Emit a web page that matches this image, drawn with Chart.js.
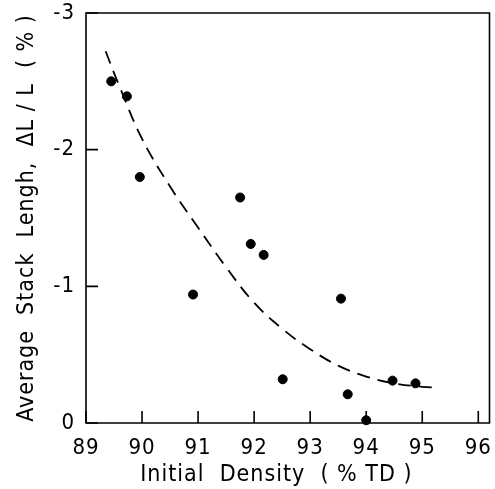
<!DOCTYPE html>
<html>
<head>
<meta charset="utf-8">
<script src="https://cdn.jsdelivr.net/npm/chart.js@4"></script>
<style>
  html, body { margin: 0; padding: 0; background: #fff; }
  #wrap { width: 495px; height: 489px; }
</style>
</head>
<body>
<div id="wrap"><canvas id="chart"></canvas></div>
<script>
// measured points: initial density vs stack length change
const densityX = [89.45, 89.73, 89.96, 90.91, 91.75, 91.94, 92.17, 92.51, 93.55, 93.67, 94.0, 94.47, 94.88];
const lengthY = [-2.50, -2.39, -1.80, -0.94, -1.65, -1.31, -1.23, -0.32, -0.91, -0.21, -0.02, -0.31, -0.29];

// dashed trend curve
const curveX = [89.35, 89.6, 90.0, 90.5, 91.0, 91.5, 92.0, 92.5, 93.0, 93.5, 94.0, 94.5, 95.0, 95.3];
const curveY = [-2.72, -2.46, -2.08, -1.73, -1.43, -1.14, -0.88, -0.69, -0.54, -0.42, -0.34, -0.29, -0.265, -0.26];

const xTicks = [89, 90, 91, 92, 93, 94, 95, 96];
const yTicks = [-3, -2, -1, 0];

const fontFamily = '"DejaVu Sans Condensed", "DejaVu Sans", sans-serif';

// spaced-out lettering like the plotter font
const spacingPlugin = {
    id: "spacing",
    beforeLayout(chart) { chart.ctx.letterSpacing = "1px"; },
    beforeDraw(chart) { chart.ctx.letterSpacing = "1px"; }
};

// frame and inward tick marks
const framePlugin = {
    id: "frame",
    afterDraw(chart) {
        const ctx = chart.ctx;
        const a = chart.chartArea;
        const xs = chart.scales.x;
        const ys = chart.scales.y;
        ctx.save();
        ctx.strokeStyle = "#000";
        ctx.lineWidth = 1.6;
        ctx.beginPath();
        ctx.moveTo(a.left, a.bottom);
        ctx.lineTo(a.left, a.top);
        ctx.lineTo(a.right, a.top);
        ctx.lineTo(a.right, a.bottom);
        ctx.closePath();
        ctx.stroke();
        ctx.beginPath();
        xTicks.forEach(v => {
            const px = xs.getPixelForValue(v);
            ctx.moveTo(px, a.bottom);
            ctx.lineTo(px, a.bottom - 12);
        });
        yTicks.forEach(v => {
            const py = ys.getPixelForValue(v);
            ctx.moveTo(a.left, py);
            ctx.lineTo(a.left + 12, py);
        });
        ctx.stroke();
        ctx.restore();
    }
};

new Chart(document.getElementById("chart"), {
    type: "scatter",
    data: {
        datasets: [
            {
                label: "curve",
                type: "line",
                data: curveX.map((x, i) => ({ x: x, y: curveY[i] })),
                borderColor: "#000",
                borderWidth: 1.8,
                borderDash: [13, 8],
                pointRadius: 0,
                tension: 0.4,
                fill: false
            },
            {
                label: "data",
                data: densityX.map((x, i) => ({ x: x, y: lengthY[i] })),
                backgroundColor: "#000",
                borderColor: "#000",
                pointRadius: 4.5,
                pointHoverRadius: 4.5
            }
        ]
    },
    options: {
        responsive: true,
        maintainAspectRatio: false,
        animation: false,
        clip: false,
        layout: { padding: { left: 0, right: 4, top: 13, bottom: 0 } },
        plugins: {
            legend: { display: false },
            tooltip: { enabled: false }
        },
        scales: {
            x: {
                type: "linear",
                min: 89,
                max: 96.2,
                afterBuildTicks: s => { s.ticks = xTicks.map(v => ({ value: v })); },
                afterFit: s => { s.height = 66; s.paddingLeft = 0; s.paddingRight = 0; },
                grid: { display: false, drawTicks: false },
                border: { display: false },
                ticks: {
                    color: "#000",
                    padding: 12,
                    font: { family: fontFamily, size: 22 }
                },
                title: {
                    display: true,
                    text: "Initial  Density  ( % TD )   ",
                    color: "#000",
                    padding: { top: 0, bottom: 0 },
                    font: { family: fontFamily, size: 23 }
                }
            },
            y: {
                type: "linear",
                min: -3,
                max: 0,
                reverse: true,
                afterBuildTicks: s => { s.ticks = yTicks.map(v => ({ value: v })); },
                afterFit: s => { s.width = 86; s.paddingTop = 0; s.paddingBottom = 0; },
                grid: { display: false, drawTicks: false },
                border: { display: false },
                ticks: {
                    color: "#000",
                    padding: 11,
                    font: { family: fontFamily, size: 22 }
                },
                title: {
                    display: true,
                    text: "Average  Stack  Lengh,  \u0394L / L  ( % )",
                    color: "#000",
                    padding: { top: 13, bottom: 0 },
                    font: { family: fontFamily, size: 23 }
                }
            }
        }
    },
    plugins: [spacingPlugin, framePlugin]
});
</script>
</body>
</html>
